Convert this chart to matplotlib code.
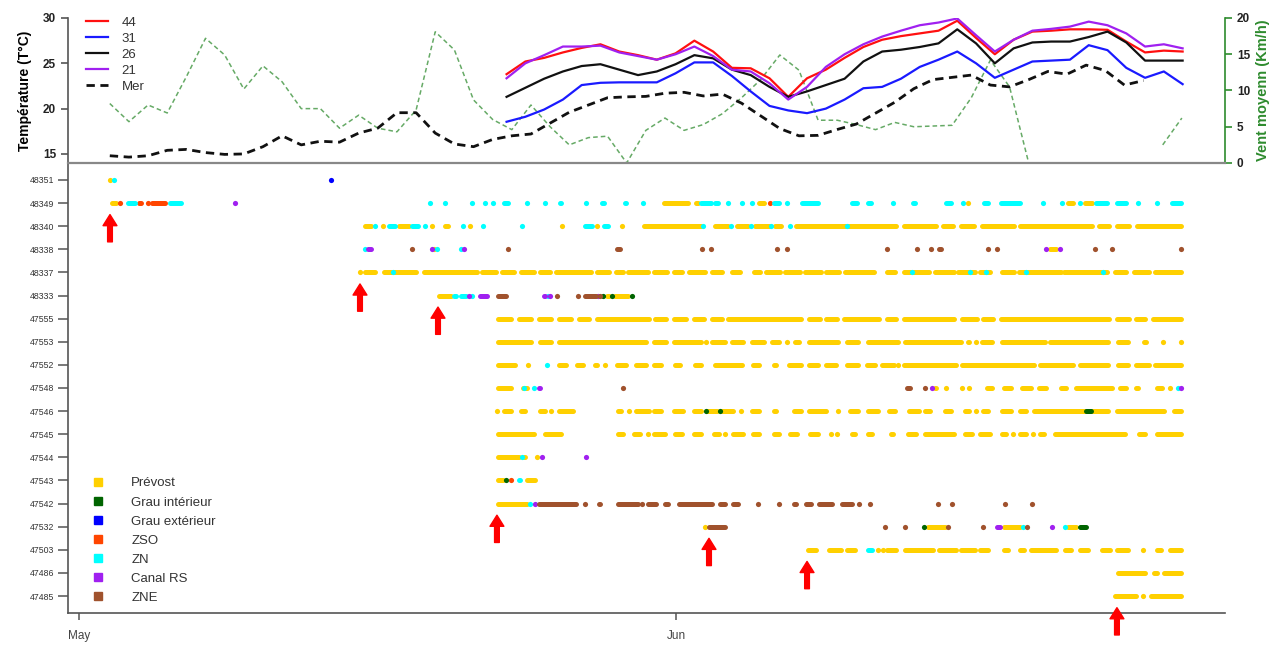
import numpy as np
import matplotlib.pyplot as plt
from matplotlib.lines import Line2D

plt.rcParams['font.family'] = ['Liberation Sans', 'DejaVu Sans']

# x axis = days since May 1st
# ---- top panel: temperatures (daily) ----
temp_days = np.linspace(22.2, 57.3, 37)
t44 = [23.8, 25.2, 25.6, 26.2, 26.7, 27.1, 26.3, 25.9, 25.4, 26.1, 27.5, 26.3, 24.5, 24.45,
       23.35, 21.3, 23.35, 24.3, 25.6, 26.8, 27.6, 28.0, 28.3, 28.6, 29.7, 27.8, 26.0, 27.6,
       28.5, 28.6, 28.75, 28.75, 28.7, 27.4, 26.2, 26.4, 26.3]
t31 = [18.55, 19.1, 19.9, 21.0, 22.6, 22.85, 22.9, 22.9, 22.9, 23.9, 25.1, 25.1, 23.6, 21.9,
       20.3, 19.8, 19.5, 20.0, 21.0, 22.25, 22.4, 23.3, 24.6, 25.4, 26.3, 25.0, 23.4, 24.3,
       25.2, 25.3, 25.4, 27.0, 26.45, 24.5, 23.4, 24.1, 22.7]
t26 = [21.3, 22.3, 23.3, 24.1, 24.7, 24.9, 24.3, 23.7, 24.1, 24.9, 25.9, 25.55, 24.3, 23.7,
       22.4, 21.3, 21.9, 22.6, 23.3, 25.2, 26.3, 26.5, 26.8, 27.2, 28.75, 27.2, 25.0, 26.65,
       27.3, 27.4, 27.4, 27.9, 28.5, 27.3, 25.3, 25.3, 25.3]
t21 = [23.35, 25.0, 25.9, 26.85, 26.85, 26.95, 26.2, 25.8, 25.4, 26.0, 26.85, 25.8, 24.3, 24.1,
       22.8, 21.0, 22.4, 24.6, 26.0, 27.1, 27.95, 28.6, 29.2, 29.5, 29.95, 28.1, 26.3, 27.6,
       28.6, 28.8, 29.05, 29.6, 29.2, 28.3, 26.85, 27.1, 26.65]

wind_days = np.linspace(1.6, 57.26, 57)
mer = [14.8, 14.65, 14.8, 15.4, 15.5, 15.15, 14.95, 15.0, 15.8, 17.0,
       16.0, 16.4, 16.3, 17.3, 17.85, 19.55, 19.55, 17.3, 16.1, 15.8,
       16.6, 17.0, 17.2, 18.4, 19.6, 20.4, 21.2, 21.3, 21.35, 21.7,
       21.8, 21.4, 21.6, 20.6, 19.2, 17.8, 17.0, 17.05, 17.7, 18.3,
       19.5, 20.7, 22.2, 23.2, 23.45, 23.7, 22.6, 22.4, 23.2, 24.1,
       23.8, 24.8, 24.2, 22.6, 23.1]
nan = np.nan
wind = [8.2, 5.7, 8.0, 6.9, 11.9, 17.2, 14.9, 10.2, 13.4, 11.2,
        7.5, 7.5, 4.8, 6.6, 4.8, 4.3, 7.3, 18.1, 15.6, 8.7,
        6.0, 4.6, 8.0, 5.0, 2.5, 3.5, 3.7, 0.0, 4.5, 6.2,
        4.5, 5.3, 6.8, 9.0, 11.5, 14.9, 12.8, 5.9, 5.9, 5.3,
        4.6, 5.6, 5.0, 5.1, 5.2, 9.0, 14.2, 10.5, 0.0, nan,
        nan, nan, nan, nan, nan, 2.5, 6.2]

# ---- bottom panel: detections (start day, end day, zone) ----
zone_codes = ['P', 'GI', 'GE', 'ZSO', 'ZN', 'CRS', 'ZNE']
zone_names = ['Prévost', 'Grau intérieur', 'Grau extérieur', 'ZSO', 'ZN', 'Canal RS', 'ZNE']
zone_colors = ['#FFD000', '#006400', '#0000FF', '#FF4500', '#00FFFF', '#A020F0', '#A0522D']

det_48351 = [(1.55, 1.7, 'P'), (1.77, 1.85, 'ZN'), (13.08, 13.08, 'GE')]
det_48349 = [(1.61, 2.02, 'P'), (2.13, 2.13, 'ZSO'), (2.49, 3.01, 'ZN'), (3.06, 3.32, 'ZSO'),
             (3.58, 3.58, 'ZSO'), (3.69, 4.57, 'ZSO'), (4.62, 5.40, 'ZN'), (8.10, 8.10, 'CRS'),
             (18.22, 18.22, 'ZN'), (19.0, 19.0, 'ZN'), (20.4, 20.4, 'ZN'), (20.98, 21.18, 'ZN'),
             (21.5, 21.5, 'ZN'), (22.0, 22.38, 'ZN'), (23.26, 23.26, 'ZN'), (24.2, 24.2, 'ZN'),
             (24.9, 25.1, 'ZN'), (26.3, 26.3, 'ZN'), (27.1, 27.36, 'ZN'), (28.25, 28.5, 'ZN'),
             (29.2, 29.4, 'ZN'), (30.27, 31.72, 'P'), (31.98, 32.24, 'P'), (32.24, 32.87, 'ZN'),
             (32.92, 33.28, 'ZN'), (33.7, 33.7, 'ZN'), (34.4, 34.4, 'ZN'), (34.94, 34.94, 'ZN'),
             (35.2, 35.62, 'P'), (35.9, 35.9, 'ZSO'), (35.98, 36.4, 'ZN'), (36.76, 36.76, 'ZN'),
             (37.44, 38.47, 'ZN'), (39.15, 39.35, 'ZN'), (40.03, 40.45, 'ZN'), (40.86, 41.22, 'ZN'),
             (42.26, 42.26, 'ZN'), (43.2, 43.5, 'ZN'), (44.96, 45.33, 'ZN'), (45.9, 45.9, 'ZN'),
             (46.15, 46.15, 'P'), (46.9, 47.3, 'ZN'), (47.8, 48.96, 'ZN'), (50.05, 50.05, 'ZN'),
             (51.04, 51.04, 'ZN'), (51.25, 51.7, 'P'), (51.97, 51.97, 'ZN'), (52.13, 52.65, 'P'),
             (52.7, 53.43, 'ZN'), (53.8, 54.46, 'ZN'), (54.98, 54.98, 'ZN'), (55.97, 55.97, 'ZN'),
             (56.65, 57.27, 'ZN')]
det_48340 = [(14.75, 15.26, 'P'), (15.37, 15.37, 'ZN'), (15.78, 15.78, 'P'), (15.99, 16.51, 'ZN'),
             (16.56, 17.19, 'P'), (17.19, 17.7, 'ZN'), (17.96, 17.96, 'ZN'), (18.33, 18.33, 'P'),
             (18.9, 19.26, 'P'), (19.94, 19.94, 'ZN'), (20.3, 20.3, 'P'), (20.98, 20.98, 'ZN'),
             (23.0, 23.0, 'ZN'), (25.08, 25.08, 'P'), (26.17, 26.69, 'ZN'), (26.9, 26.9, 'P'),
             (27.2, 27.57, 'ZN'), (28.19, 28.19, 'P'), (29.28, 32.4, 'P'), (32.4, 32.4, 'ZN'),
             (32.92, 33.8, 'P'), (33.85, 33.85, 'ZN'), (34.06, 34.84, 'P'), (34.9, 34.9, 'ZN'),
             (35.0, 35.88, 'P'), (35.93, 35.93, 'ZN'), (36.08, 36.55, 'P'), (36.92, 36.92, 'ZN'),
             (37.17, 42.52, 'P'), (39.9, 39.9, 'ZN'), (42.73, 44.6, 'P'), (44.8, 45.48, 'P'),
             (45.69, 46.57, 'P'), (46.78, 48.6, 'P'), (48.8, 52.65, 'P'), (52.86, 53.58, 'P'),
             (53.79, 54.62, 'P'), (54.83, 57.27, 'P')]
det_48338 = [(14.75, 14.9, 'ZN'), (14.95, 15.26, 'CRS'), (17.29, 17.29, 'ZNE'), (18.33, 18.33, 'CRS'),
             (18.43, 18.43, 'P'), (18.59, 18.59, 'ZN'), (19.85, 19.85, 'ZN'), (19.95, 20.05, 'CRS'),
             (22.27, 22.27, 'ZNE'), (27.83, 28.19, 'ZNE'), (32.35, 32.35, 'ZNE'), (32.81, 32.81, 'ZNE'),
             (36.24, 36.24, 'ZNE'), (36.76, 36.76, 'ZNE'), (41.95, 41.95, 'ZNE'), (43.51, 43.51, 'ZNE'),
             (44.24, 44.24, 'ZNE'), (44.55, 44.81, 'ZNE'), (47.2, 47.2, 'ZNE'), (47.66, 47.66, 'ZNE'),
             (50.2, 50.2, 'CRS'), (50.31, 50.83, 'P'), (50.93, 50.93, 'CRS'), (52.75, 52.75, 'ZNE'),
             (53.53, 53.69, 'ZNE'), (57.22, 57.22, 'ZNE')]
det_48337 = [(14.59, 14.59, 'P'), (14.75, 15.47, 'P'), (15.78, 17.6, 'P'), (16.3, 16.3, 'ZN'),
             (17.81, 20.77, 'P'), (20.87, 21.75, 'P'), (21.9, 22.69, 'P'), (22.85, 23.73, 'P'),
             (23.83, 24.56, 'P'), (24.71, 26.64, 'P'), (26.79, 27.62, 'P'), (27.78, 28.3, 'P'),
             (28.45, 29.6, 'P'), (29.75, 30.63, 'P'), (30.79, 31.41, 'P'), (31.57, 32.6, 'P'),
             (32.76, 33.44, 'P'), (33.85, 34.42, 'P'), (34.99, 35.46, 'P'), (35.57, 36.5, 'P'),
             (36.6, 37.54, 'P'), (37.64, 38.58, 'P'), (38.68, 39.56, 'P'), (39.67, 41.38, 'P'),
             (41.85, 42.47, 'P'), (42.78, 44.19, 'P'), (43.25, 43.25, 'ZN'), (44.34, 45.53, 'P'),
             (45.58, 46.62, 'P'), (46.26, 46.26, 'ZN'), (46.68, 47.4, 'P'), (47.09, 47.09, 'ZN'),
             (47.82, 48.6, 'P'), (48.75, 51.04, 'P'), (49.17, 49.17, 'ZN'), (51.04, 53.43, 'P'),
             (53.17, 53.17, 'ZN'), (53.69, 54.46, 'P'), (54.72, 55.61, 'P'), (55.76, 57.32, 'P')]
det_48333 = [(18.59, 19.37, 'P'), (19.37, 19.63, 'ZN'), (19.78, 20.15, 'ZN'), (20.25, 20.25, 'CRS'),
             (20.4, 20.4, 'ZN'), (20.72, 21.24, 'CRS'), (21.7, 22.27, 'ZNE'), (24.04, 24.3, 'CRS'),
             (24.35, 24.35, 'ZN'), (24.45, 24.45, 'CRS'), (24.82, 24.82, 'ZNE'), (25.91, 25.91, 'ZNE'),
             (26.17, 26.9, 'ZNE'), (26.95, 26.95, 'CRS'), (27.05, 27.05, 'ZNE'), (27.2, 27.2, 'GI'),
             (27.31, 27.62, 'P'), (27.67, 27.67, 'GI'), (27.73, 28.6, 'P'), (28.71, 28.71, 'GI')]
det_47555 = [(21.7, 22.53, 'P'), (22.74, 23.57, 'P'), (23.78, 24.61, 'P'), (24.82, 25.65, 'P'),
             (25.86, 26.58, 'P'), (26.79, 29.65, 'P'), (29.85, 30.58, 'P'), (30.79, 31.62, 'P'),
             (31.83, 32.55, 'P'), (32.76, 33.44, 'P'), (33.64, 37.59, 'P'), (37.8, 38.53, 'P'),
             (38.73, 39.41, 'P'), (39.62, 41.64, 'P'), (41.85, 42.52, 'P'), (42.73, 45.53, 'P'),
             (45.74, 46.68, 'P'), (46.88, 47.56, 'P'), (47.77, 53.58, 'P'), (53.79, 54.57, 'P'),
             (54.78, 55.45, 'P'), (55.66, 57.32, 'P')]
det_47553 = [(21.65, 23.57, 'P'), (23.83, 24.61, 'P'), (24.82, 29.54, 'P'), (29.8, 30.58, 'P'),
             (30.79, 32.4, 'P'), (32.55, 32.55, 'P'), (32.76, 33.64, 'P'), (33.8, 34.53, 'P'),
             (34.84, 35.62, 'P'), (35.88, 36.4, 'P'), (36.76, 36.76, 'P'), (37.07, 37.44, 'P'),
             (37.8, 39.51, 'P'), (39.77, 40.55, 'P'), (40.86, 42.58, 'P'), (42.83, 45.85, 'P'),
             (46.1, 46.31, 'P'), (46.57, 46.57, 'P'), (46.78, 47.46, 'P'), (47.82, 50.26, 'P'),
             (50.31, 53.53, 'P'), (53.84, 54.52, 'P'), (55.19, 55.5, 'P'), (56.28, 56.28, 'P'),
             (57.22, 57.22, 'P')]
det_47552 = [(21.65, 22.74, 'P'), (23.31, 23.31, 'P'), (23.83, 24.04, 'P'), (24.3, 24.3, 'ZN'),
             (24.82, 25.39, 'P'), (25.8, 26.27, 'P'), (26.69, 27.0, 'P'), (27.31, 27.31, 'P'),
             (27.83, 28.5, 'P'), (28.82, 29.54, 'P'), (29.8, 30.32, 'P'), (30.84, 31.26, 'P'),
             (31.88, 32.4, 'P'), (32.92, 34.48, 'P'), (34.94, 35.41, 'P'), (36.0, 36.29, 'P'),
             (36.76, 37.59, 'P'), (37.8, 38.47, 'P'), (38.73, 39.36, 'P'), (39.77, 40.55, 'P'),
             (40.81, 41.43, 'P'), (41.59, 42.37, 'P'), (42.52, 42.52, 'P'), (42.78, 45.59, 'P'),
             (45.74, 49.64, 'P'), (49.79, 51.71, 'P'), (51.87, 53.53, 'P'), (53.89, 54.52, 'P'),
             (54.78, 55.61, 'P'), (55.81, 57.32, 'P')]
det_47548 = [(21.65, 22.53, 'P'), (22.95, 23.36, 'P'), (23.1, 23.1, 'ZN'), (23.62, 23.62, 'ZN'),
             (23.78, 24.04, 'CRS'), (28.24, 28.24, 'ZNE'), (42.9, 43.25, 'ZNE'), (43.93, 43.93, 'ZNE'),
             (44.29, 44.29, 'CRS'), (44.34, 44.6, 'P'), (44.96, 45.12, 'P'), (45.85, 45.85, 'P'),
             (46.21, 46.21, 'P'), (47.04, 47.46, 'P'), (47.92, 48.49, 'P'), (48.86, 49.53, 'P'),
             (49.74, 50.31, 'P'), (50.88, 51.35, 'P'), (51.66, 53.69, 'P'), (53.95, 54.46, 'P'),
             (54.78, 55.04, 'P'), (55.87, 56.33, 'P'), (56.65, 56.65, 'P'), (57.06, 57.06, 'ZN'),
             (57.22, 57.22, 'CRS')]
det_47546 = [(21.7, 21.7, 'P'), (22.01, 22.53, 'P'), (22.85, 23.26, 'P'), (23.88, 24.3, 'P'),
             (24.51, 24.51, 'P'), (24.82, 25.75, 'P'), (27.93, 28.24, 'P'), (28.56, 28.56, 'P'),
             (28.82, 29.65, 'P'), (29.8, 30.32, 'P'), (30.79, 31.46, 'P'), (31.83, 32.4, 'P'),
             (32.55, 33.23, 'P'), (32.55, 32.55, 'GI'), (33.28, 33.28, 'GI'), (33.33, 34.06, 'P'),
             (34.37, 34.37, 'P'), (34.84, 35.36, 'P'), (35.98, 36.29, 'P'), (37.02, 37.59, 'P'),
             (37.8, 38.89, 'P'), (39.41, 39.41, 'P'), (39.93, 40.55, 'P'), (40.91, 41.59, 'P'),
             (41.95, 42.47, 'P'), (42.99, 43.67, 'P'), (43.87, 44.24, 'P'), (44.86, 45.38, 'P'),
             (45.9, 46.31, 'P'), (46.57, 46.57, 'P'), (46.88, 47.3, 'P'), (47.82, 48.49, 'P'),
             (48.8, 49.27, 'P'), (49.48, 53.53, 'P'), (52.18, 52.6, 'GI'), (53.79, 56.39, 'P'),
             (56.75, 57.27, 'P')]
det_47545 = [(21.7, 23.73, 'P'), (24.09, 25.13, 'P'), (27.88, 28.3, 'P'), (28.76, 29.23, 'P'),
             (29.54, 29.54, 'P'), (29.8, 30.48, 'P'), (30.84, 31.41, 'P'), (31.83, 32.4, 'P'),
             (32.87, 33.33, 'P'), (33.54, 33.54, 'P'), (33.9, 34.53, 'P'), (34.89, 35.41, 'P'),
             (36.03, 36.4, 'P'), (36.81, 37.38, 'P'), (37.85, 38.47, 'P'), (39.04, 39.04, 'P'),
             (39.36, 39.36, 'P'), (40.03, 40.39, 'P'), (40.91, 41.23, 'P'), (42.06, 42.32, 'P'),
             (42.94, 43.56, 'P'), (43.82, 45.53, 'P'), (45.9, 46.47, 'P'), (46.68, 47.4, 'P'),
             (47.82, 48.23, 'P'), (48.49, 48.49, 'P'), (48.8, 49.27, 'P'), (49.53, 49.53, 'P'),
             (49.79, 50.16, 'P'), (50.57, 54.41, 'P'), (54.93, 55.45, 'P'), (55.87, 57.32, 'P')]
det_47544 = [(21.65, 22.95, 'P'), (23.0, 23.0, 'ZN'), (23.05, 23.26, 'P'), (23.68, 23.83, 'P'),
             (23.94, 24.09, 'CRS'), (26.32, 26.32, 'CRS')]
det_47543 = [(21.65, 22.12, 'P'), (22.17, 22.17, 'GI'), (22.38, 22.53, 'ZSO'), (22.74, 23.0, 'ZN'),
             (23.16, 23.78, 'P')]
det_47542 = [(21.65, 23.36, 'P'), (23.42, 23.42, 'ZN'), (23.68, 23.68, 'CRS'), (23.78, 25.91, 'ZNE'),
             (26.27, 26.27, 'ZNE'), (26.9, 27.15, 'ZNE'), (27.88, 29.08, 'ZNE'), (29.23, 29.23, 'ZNE'),
             (29.44, 30.06, 'ZNE'), (30.32, 30.68, 'ZNE'), (31.05, 32.92, 'ZNE'), (33.18, 33.64, 'ZNE'),
             (33.9, 34.27, 'ZNE'), (35.25, 35.25, 'ZNE'), (36.34, 36.34, 'ZNE'), (37.02, 37.33, 'ZNE'),
             (37.69, 38.11, 'ZNE'), (38.32, 39.15, 'ZNE'), (39.51, 40.19, 'ZNE'), (40.5, 40.5, 'ZNE'),
             (41.07, 41.07, 'ZNE'), (44.6, 44.6, 'ZNE'), (45.33, 45.33, 'ZNE'), (48.08, 48.08, 'ZNE'),
             (49.48, 49.48, 'ZNE')]
det_47532 = [(32.5, 32.5, 'P'), (32.61, 33.64, 'ZNE'), (41.85, 41.85, 'ZNE'), (42.89, 42.89, 'ZNE'),
             (43.87, 43.87, 'GI'), (43.98, 45.02, 'P'), (45.12, 45.12, 'ZNE'), (46.94, 46.94, 'ZNE'),
             (47.56, 47.92, 'CRS'), (47.92, 48.96, 'P'), (49.01, 49.01, 'ZN'), (49.22, 49.22, 'ZNE'),
             (50.52, 50.52, 'CRS'), (51.19, 51.19, 'ZN'), (51.25, 51.82, 'P'), (51.87, 52.34, 'GI')]
det_47503 = [(37.75, 38.37, 'P'), (38.84, 39.62, 'P'), (39.77, 40.39, 'P'), (40.91, 41.23, 'ZN'),
             (41.48, 41.48, 'P'), (41.74, 41.74, 'P'), (41.85, 42.52, 'P'), (42.83, 44.44, 'P'),
             (44.55, 45.59, 'P'), (45.69, 46.62, 'P'), (46.72, 47.3, 'P'), (47.92, 48.29, 'P'),
             (48.8, 49.12, 'P'), (49.33, 50.78, 'P'), (51.09, 51.61, 'P'), (51.87, 52.49, 'P'),
             (53.01, 53.63, 'P'), (53.79, 54.52, 'P'), (55.24, 55.24, 'P'), (55.87, 56.28, 'P'),
             (56.54, 57.32, 'P')]
det_47486 = [(53.84, 55.45, 'P'), (55.71, 56.07, 'P'), (56.23, 57.32, 'P')]
det_47485 = [(53.69, 54.98, 'P'), (55.24, 55.24, 'P'), (55.56, 57.32, 'P')]

tags = [48351, 48349, 48340, 48338, 48337, 48333, 47555, 47553, 47552, 47548,
        47546, 47545, 47544, 47543, 47542, 47532, 47503, 47486, 47485]
detections = [det_48351, det_48349, det_48340, det_48338, det_48337, det_48333, det_47555,
              det_47553, det_47552, det_47548, det_47546, det_47545, det_47544, det_47543,
              det_47542, det_47532, det_47503, det_47486, det_47485]

# release dates (red arrows)
arrow_days = [1.61, 14.59, 18.64, 21.70, 32.71, 37.80, 53.89]
arrow_tags = [48349, 48337, 48333, 47542, 47532, 47503, 47485]

XLIM = (-0.57, 59.5)
AXCOL = '#555555'

fig = plt.figure(figsize=(12.87, 6.46), dpi=100)
ax_top = fig.add_axes([68 / 1287, 1 - 163 / 646, 1157 / 1287, 145 / 646])
ax_bot = fig.add_axes([68 / 1287, 1 - 613 / 646, 1157 / 1287, 450 / 646])

# ---------------- top panel ----------------
ax_wind = ax_top.twinx()
ax_wind.plot(wind_days, wind, color='#66aa66', lw=1.1, ls=(0, (3, 2)))
ax_wind.set_ylim(0, 20)
ax_wind.set_yticks([0, 5, 10, 15, 20])
ax_wind.tick_params(axis='y', colors='#2e8b2e', length=5, width=1.2, labelsize=8.5,
                    labelcolor='#222222')
for lab in ax_wind.get_yticklabels():
    lab.set_fontweight('bold')
ax_wind.spines['right'].set_color('#2e8b2e')
ax_wind.spines['right'].set_linewidth(1.2)
for s in ['top', 'left', 'bottom']:
    ax_wind.spines[s].set_visible(False)
ax_wind.set_ylabel('Vent moyenn (Km/h)', color='#2e8b2e', fontsize=10.5, fontweight='bold',
                   labelpad=4)

ax_top.set_zorder(ax_wind.get_zorder() + 1)
ax_top.patch.set_visible(False)
ax_top.plot(temp_days, t44, color='#ff1010', lw=1.6, label='44')
ax_top.plot(temp_days, t31, color='#1a1aff', lw=1.6, label='31')
ax_top.plot(temp_days, t26, color='#111111', lw=1.6, label='26')
ax_top.plot(temp_days, t21, color='#a020f0', lw=1.6, label='21')
ax_top.plot(wind_days[:len(mer)], mer, color='#111111', lw=2, ls=(0, (3, 2)), label='Mer')
ax_top.set_xlim(*XLIM)
ax_wind.set_xlim(*XLIM)
ax_top.set_ylim(14, 30)
ax_top.set_yticks([15, 20, 25, 30])
ax_top.tick_params(axis='y', length=5, width=1.2, colors=AXCOL, labelsize=8.5,
                   labelcolor='#222222')
for lab in ax_top.get_yticklabels():
    lab.set_fontweight('bold')
ax_top.set_xticks([])
for s in ['top', 'right']:
    ax_top.spines[s].set_visible(False)
ax_top.spines['left'].set_color(AXCOL)
ax_top.spines['bottom'].set_color('#888888')
ax_top.spines['left'].set_linewidth(1.2)
ax_top.spines['bottom'].set_linewidth(1.6)
ax_top.set_ylabel('Température (T°C)', fontsize=10, fontweight='bold', labelpad=8)
ax_top.legend(loc='upper left', bbox_to_anchor=(0.0156, 1.01), frameon=False, fontsize=9.5,
              handlelength=1.7, handletextpad=1.0, labelspacing=0.28, borderpad=0,
              borderaxespad=0, labelcolor='#333333')

# ---------------- bottom panel ----------------
color_of = dict(zip(zone_codes, zone_colors))
for zone in zone_codes:
    ys, x0, x1 = [], [], []
    dot_x, dot_y = [], []
    for row, det in enumerate(detections, start=1):
        for s, e, z in det:
            if z != zone:
                continue
            if e - s < 0.2:
                dot_x.append((s + e) / 2)
                dot_y.append(row)
            else:
                ys.append(row)
                x0.append(s + 0.08)
                x1.append(e - 0.08)
    if ys:
        ax_bot.hlines(ys, x0, x1, colors=color_of[zone], linewidth=3.6, capstyle='round',
                      zorder=3)
    if dot_x:
        ax_bot.scatter(dot_x, dot_y, s=14, color=color_of[zone], linewidths=0, zorder=3)

for d, tag in zip(arrow_days, arrow_tags):
    r = tags.index(tag) + 1
    ax_bot.annotate('', xy=(d, r + 0.5), xytext=(d, r + 1.68), annotation_clip=False,
                    arrowprops=dict(facecolor='#ff0000', edgecolor='#ff0000', width=3.4,
                                    headwidth=10, headlength=8, shrink=0))

ax_bot.set_xlim(*XLIM)
ax_bot.set_ylim(len(tags) + 0.73, 0.27)
ax_bot.set_yticks(range(1, len(tags) + 1))
ax_bot.set_yticklabels([str(t) for t in tags], fontsize=6.3, color='#333333')
ax_bot.set_xticks([0, 31])
ax_bot.set_xticklabels(['May', 'Jun'], fontsize=8.5, color='#444444')
ax_bot.tick_params(axis='y', length=7, width=1.1, colors=AXCOL, labelcolor='#333333', pad=3)
ax_bot.tick_params(axis='x', length=5, width=1.1, colors=AXCOL, labelcolor='#444444', pad=7)
for s in ['top', 'right']:
    ax_bot.spines[s].set_visible(False)
for s in ['left', 'bottom']:
    ax_bot.spines[s].set_color(AXCOL)
    ax_bot.spines[s].set_linewidth(1.2)

handles = [Line2D([], [], marker='s', ls='', color=c, markersize=5.5) for c in zone_colors]
ax_bot.legend(handles, zone_names, loc='lower left', bbox_to_anchor=(0.0147, 0.02),
              frameon=False, fontsize=9.5, handlelength=2, handletextpad=1.5,
              labelspacing=0.52, borderpad=0, borderaxespad=0, labelcolor='#333333')

fig.savefig('out.png', dpi=100)
